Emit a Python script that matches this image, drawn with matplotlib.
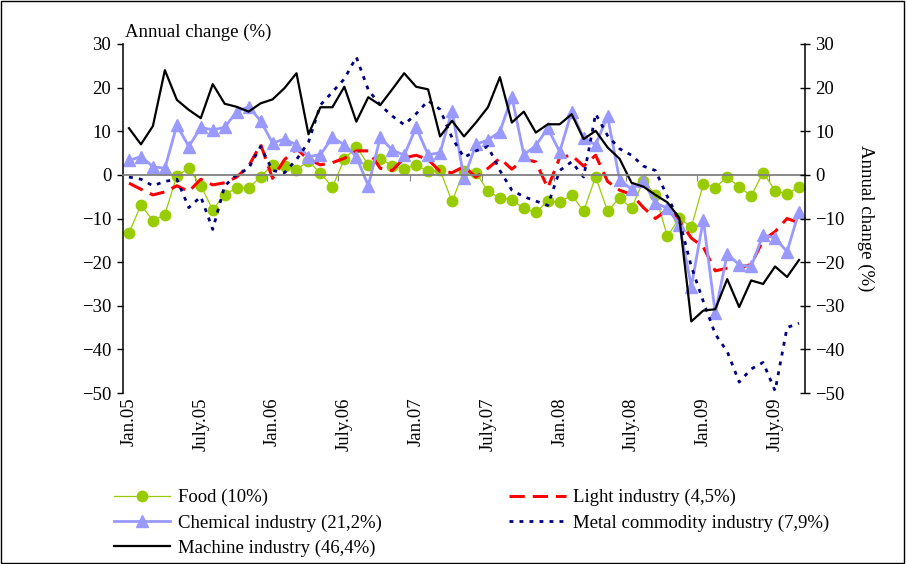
import matplotlib
matplotlib.use("Agg")
import matplotlib.pyplot as plt
import numpy as np

plt.rcParams["font.family"] = ["Liberation Serif", "DejaVu Serif"]

# monthly, Jan 2005 .. Sep 2009
tick_labels = ["Jan.05", "July.05", "Jan.06", "July.06", "Jan.07", "July.07",
               "Jan.08", "July.08", "Jan.09", "July.09"]

food = [-13.3, -6.9, -10.5, -9.1, -0.2, 1.5, -2.5, -8.0, -4.5, -3.0, -3.1, -0.4,
        2.3, 2.1, 1.2, 3.1, 0.4, -2.8, 3.6, 6.5, 2.3, 3.7, 2.1,
        1.3, 2.3, 0.8, 1.1, -6.1, 1.0, 0.5, -3.7, -5.3, -5.7, -7.7, -8.6,
        -6.0, -6.3, -4.6, -8.3, -0.4, -8.3, -5.3, -7.7, -1.3, -4.6, -14.1, -9.9, -12.0,
        -2.1, -2.9, -0.5, -2.8, -4.8, 0.5, -3.6, -4.4, -2.7]

light = [-1.9, -3.3, -4.6, -3.9, -2.5, -3.8, -1.0, -2.3, -1.8, -0.5, 2.0, 7.0,
         -0.8, 3.5, 6.0, 3.5, 2.3, 2.8, 3.8, 5.5, 5.5, 1.5, 1.0,
         3.9, 4.5, 3.5, 0.8, 0.5, 1.9, -0.5, 1.5, 3.8, 1.3, 3.6, 3.0,
         -3.0, 4.0, 4.5, 2.0, 4.5, -1.5, -3.5, -4.5, -7.5, -10.0, -8.0, -10.5, -14.5,
         -16.5, -22.0, -21.4, -21.4, -20.5, -15.0, -13.0, -10.0, -11.0]

chemical = [3.3, 4.2, 1.9, 1.5, 11.4, 6.5, 10.9, 10.3, 10.9, 14.5, 15.6, 12.4,
            7.3, 8.2, 6.9, 4.2, 4.6, 8.6, 6.9, 4.2, -2.5, 8.6, 5.7,
            4.5, 10.9, 4.6, 5.1, 14.7, -0.8, 7.0, 8.0, 9.9, 17.9, 4.6, 6.7,
            10.7, 5.3, 14.5, 8.4, 6.9, 13.4, -1.1, -3.3, -1.5, -6.5, -7.6, -11.4, -25.6,
            -10.3, -31.7, -18.1, -20.6, -21.0, -13.7, -14.5, -17.6, -8.4]

metal = [-0.5, -1.0, -2.5, -1.5, -1.0, -7.5, -5.0, -12.5, -2.5, 0.0, 1.5, 6.5,
         1.0, 0.5, 3.5, 7.5, 16.0, 19.0, 22.0, 27.0, 19.5, 16.0, 13.5,
         11.5, 14.0, 17.0, 15.0, 8.5, 4.0, 5.5, 6.5, 1.0, -3.5, -5.0, -6.0,
         -7.0, 1.0, 3.0, -0.5, 14.0, 9.0, 6.0, 4.5, 2.0, 1.0, -5.0, -10.5, -21.0,
         -29.0, -36.5, -40.5, -47.5, -44.5, -43.0, -49.5, -35.0, -34.0]

machine = [10.7, 7.0, 11.2, 24.0, 17.2, 14.9, 13.0, 20.8, 16.3, 15.6, 14.5, 16.4,
           17.3, 19.9, 23.3, 9.3, 15.5, 15.5, 20.2, 12.2, 17.8, 16.0, 19.6,
           23.3, 20.2, 19.6, 8.8, 12.4, 8.8, 12.0, 15.5, 22.4, 12.0, 14.5, 9.7,
           11.6, 11.6, 13.9, 8.2, 10.1, 6.3, 3.7, -1.8, -2.7, -4.6, -6.3, -9.9, -33.6,
           -31.1, -30.8, -23.9, -30.3, -24.2, -25.0, -21.0, -23.4, -19.5]

x = np.arange(len(food))
fs = 13.5

fig = plt.figure(figsize=(9.06, 5.64), dpi=100)
ax = fig.add_axes([123 / 906, 1 - 393 / 564, (805 - 123) / 906, (393 - 44) / 564])

l_food, = ax.plot(x, food, color="#99CC00", lw=0.9, marker="o", ms=7.5,
                  label="Food (10%)")
l_light, = ax.plot(x, light, color="#FF0000", lw=2.2, dashes=(5, 2.6),
                   label="Light industry (4,5%)")
l_chem, = ax.plot(x, chemical, color="#9999FF", lw=2.0, marker="^", ms=9,
                  label="Chemical industry (21,2%)")
l_metal, = ax.plot(x, metal, color="#000080", lw=2.0, dashes=(1.4, 2.2),
                   label="Metal commodity industry (7,9%)")
l_mach, = ax.plot(x, machine, color="black", lw=1.6,
                  label="Machine industry (46,4%)")

ax.set_xlim(-0.5, len(x) - 0.5)
ax.set_ylim(-50, 30)
ax.set_yticks(range(-50, 31, 10))
ax.tick_params(axis="y", direction="out", length=4.5, width=1, labelsize=fs, pad=4)

# zero line carries the category tick marks
ax.spines["bottom"].set_position(("data", 0))
ax.spines["bottom"].set_color("#808080")
ax.spines["bottom"].set_linewidth(1.3)
ax.set_xticks(np.arange(5.5, 56, 6))
ax.tick_params(axis="x", direction="out", length=4, color="#808080", labelbottom=False)
for s in ["top", "right"]:
    ax.spines[s].set_visible(False)
ax.spines["left"].set_linewidth(1.1)

# date labels at the bottom of the plot
sec = ax.secondary_xaxis("bottom")
sec.set_xticks(np.arange(0, 56, 6), tick_labels, rotation=90)
sec.tick_params(length=0, labelsize=fs, pad=3)
sec.spines["bottom"].set_visible(False)

ax2 = ax.twinx()
ax2.set_ylim(-50, 30)
ax2.set_yticks(range(-50, 31, 10))
ax2.tick_params(axis="y", direction="inout", length=7, width=1, labelsize=fs, pad=4)
for s in ["top", "bottom", "left"]:
    ax2.spines[s].set_visible(False)
ax2.spines["right"].set_linewidth(1.1)
ax2.set_ylabel("Annual change (%)", rotation=270, fontsize=fs, labelpad=21)

fig.text(125 / 906, 1 - 32 / 564, "Annual change (%)", fontsize=fs, va="center")

fig.legend(handles=[l_food, l_chem, l_mach, l_light, l_metal], ncol=2,
           loc="upper left", bbox_to_anchor=(101 / 906, 1 - 476 / 564),
           frameon=False, fontsize=fs, handlelength=3.0, handletextpad=0.4,
           columnspacing=6.8, labelspacing=0.42, borderpad=0.2)

fig.patches.append(plt.Rectangle((0.001, 0.001), 0.997, 0.997, transform=fig.transFigure,
                                 fill=False, edgecolor="black", lw=1))

fig.savefig("out.png", dpi=100)
